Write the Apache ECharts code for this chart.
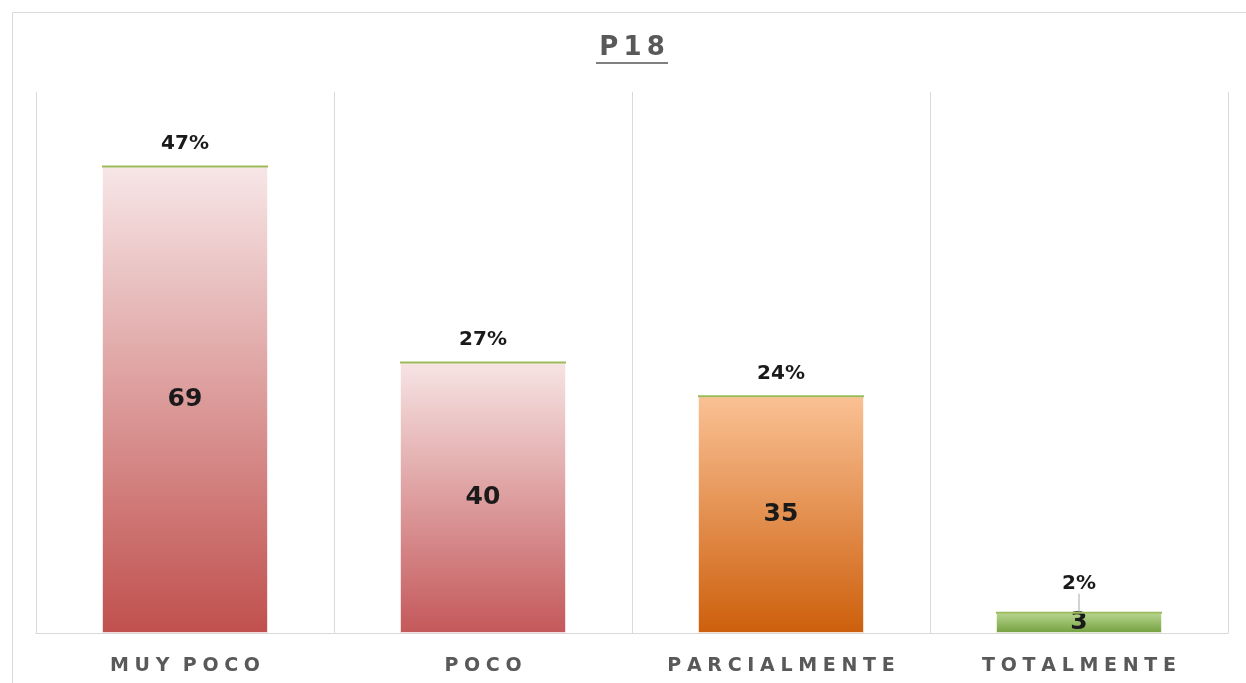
<!DOCTYPE html>
<html>
<head>
<meta charset="utf-8">
<script src="https://cdn.jsdelivr.net/npm/echarts@6/dist/echarts.min.js"></script>
<style>
  html, body { margin: 0; padding: 0; background: #fff; }
  #chart { width: 1246px; height: 683px; }
</style>
</head>
<body>
<div id="chart"></div>
<script>
const categories = ['MUY POCO', 'POCO', 'PARCIALMENTE', 'TOTALMENTE']
const counts = [69, 40, 35, 3]
const percents = [47, 27, 24, 2]
const barColors = [
  ['#f7e6e7', '#c0504d'],
  ['#f7e4e4', '#c4585a'],
  ['#fac194', '#cd5f0c'],
  ['#b8d690', '#74a03f']
]

// letter spacing is faked with thin and hair spaces
function spaced(s) {
  return s.split(' ').map(w => w.split('').join('\u2009\u200a')).join('\u2002\u2009')
}

const myChart = echarts.init(document.getElementById('chart'))

myChart.setOption({
  animation: false,
  graphic: [
    {
      type: 'rect',
      shape: { x: 12.5, y: 12.5, width: 1260, height: 700 },
      style: { fill: 'none', stroke: '#d9d9d9', lineWidth: 1 },
      silent: true
    },
    {
      type: 'text',
      x: 632,
      y: 48,
      style: {
        text: 'P18'.split('').join('\u2009'),
        align: 'center',
        verticalAlign: 'middle',
        fontFamily: 'DejaVu Sans',
        fontWeight: 'bold',
        fontSize: 26,
        fill: '#595959'
      },
      silent: true
    },
    {
      type: 'line',
      shape: { x1: 596, y1: 63, x2: 668, y2: 63 },
      style: { stroke: '#808080', lineWidth: 2 },
      silent: true
    }
  ],
  grid: { left: 36, right: 18, top: 92, bottom: 50 },
  xAxis: {
    type: 'category',
    data: categories,
    axisLine: { show: true, lineStyle: { color: '#d9d9d9', width: 1 } },
    axisTick: { show: false },
    splitLine: { show: true, interval: 0, lineStyle: { color: '#d9d9d9', width: 1 } },
    axisLabel: {
      interval: 0,
      hideOverlap: false,
      margin: 24,
      fontFamily: 'DejaVu Sans',
      fontWeight: 'bold',
      fontSize: 19,
      color: '#595959',
      formatter: spaced
    }
  },
  yAxis: {
    type: 'value',
    min: 0,
    max: 80,
    axisLine: { show: false },
    axisTick: { show: false },
    axisLabel: { show: false },
    splitLine: { show: false }
  },
  series: [
    {
      type: 'bar',
      barWidth: 166,
      barGap: '-100%',
      data: counts.map((v, i) => ({
        value: v,
        itemStyle: {
          color: new echarts.graphic.LinearGradient(0, 0, 0, 1, [
            { offset: 0, color: barColors[i][0] },
            { offset: 1, color: barColors[i][1] }
          ]),
          borderColor: 'rgba(255,255,255,0.6)',
          borderWidth: 1
        }
      })),
      label: {
        show: true,
        position: 'inside',
        fontFamily: 'DejaVu Sans',
        fontWeight: 'bold',
        fontSize: 25,
        color: '#1a1a1a'
      }
    },
    {
      type: 'pictorialBar',
      barGap: '-100%',
      symbol: 'rect',
      symbolSize: [166, 2],
      symbolPosition: 'end',
      symbolOffset: [0, '-50%'],
      itemStyle: { color: '#9bbb59' },
      data: counts,
      silent: true,
      z: 5
    },
    {
      type: 'bar',
      barWidth: 166,
      barGap: '-100%',
      itemStyle: { color: 'rgba(0,0,0,0)' },
      data: counts.map((v, i) => ({
        value: v,
        labelLine: { show: i === counts.length - 1 }
      })),
      label: {
        show: true,
        position: 'top',
        distance: 13,
        fontFamily: 'DejaVu Sans',
        fontWeight: 'bold',
        fontSize: 20,
        color: '#1a1a1a',
        formatter: p => percents[p.dataIndex] + '%'
      },
      labelLayout: p => (p.dataIndex === 3 ? { dy: -6 } : {}),
      labelLine: { show: false, lineStyle: { color: '#a6a6a6', width: 1 } },
      silent: true,
      z: 6
    }
  ]
})
</script>
</body>
</html>
